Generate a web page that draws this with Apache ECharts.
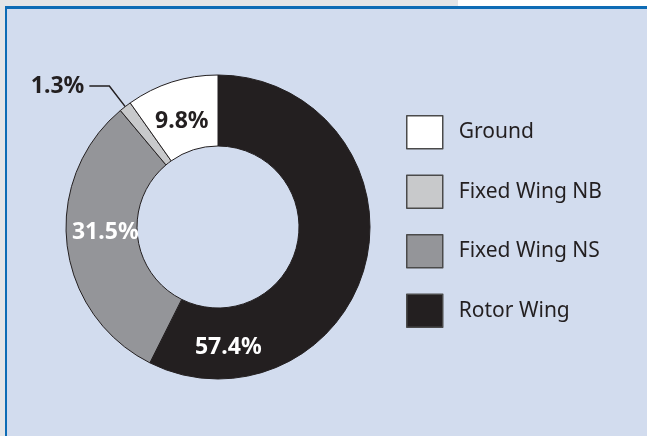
<!DOCTYPE html>
<html>
<head>
<meta charset="utf-8">
<script src="https://cdn.jsdelivr.net/npm/echarts@6/dist/echarts.min.js"></script>
<style>
  html, body { margin: 0; padding: 0; }
  body { width: 647px; height: 436px; background: #e4e5e7; position: relative; overflow: hidden; }
  .corner { position: absolute; left: 458px; top: 0; width: 189px; height: 6px; background: #ffffff; }
  #chart {
    position: absolute; left: 5px; top: 6px;
    width: 640px; height: 427px;
    background: #d2dcee;
    border-top: 3px solid #0e6cb5;
    border-left: 2px solid #0e6cb5;
  }
</style>
</head>
<body>
<div class="corner"></div>
<div id="chart"></div>
<script>
// slices in clockwise order from 12 o'clock
var categories = ['Rotor Wing', 'Fixed Wing NS', 'Fixed Wing NB', 'Ground'];
var values = [57.4, 31.5, 1.3, 9.8];
var colors = ['#231f20', '#949599', '#c8c9cb', '#ffffff'];
var legendOrder = ['Ground', 'Fixed Wing NB', 'Fixed Wing NS', 'Rotor Wing'];

var font = "'Noto Sans', 'Open Sans', sans-serif";

// label tweaks per slice (rotor wing label sits at the bottom of the ring)
var labelOpts = [
  { color: '#ffffff', position: 'inside', offset: [-106, 93] },
  { color: '#ffffff', position: 'inside', offset: [6, -8] },
  { color: '#231f20', position: 'outside' },
  { color: '#231f20', position: 'inside', offset: [0, 8] }
];

var seriesData = categories.map(function (name, i) {
  var lo = labelOpts[i];
  var lbl = { color: lo.color, position: lo.position };
  if (lo.offset) lbl.offset = lo.offset;
  var item = {
    name: name,
    value: values[i],
    itemStyle: { color: colors[i] },
    label: lbl
  };
  if (lo.position === 'outside') {
    item.labelLine = { show: true, length: 26, length2: 20, lineStyle: { color: '#231f20', width: 1.5 } };
  }
  return item;
});

var myChart = echarts.init(document.getElementById('chart'));
myChart.setOption({
  animation: false,
  legend: {
    data: legendOrder,
    orient: 'vertical',
    left: 394,
    top: 101,
    icon: 'rect',
    itemWidth: 36,
    itemHeight: 33,
    itemGap: 25,
    selectedMode: false,
    itemStyle: { borderColor: '#4a4a4a', borderWidth: 1.5 },
    textStyle: { fontFamily: font, fontSize: 21, color: '#231f20', padding: [0, 0, 0, 11] }
  },
  series: [{
    type: 'pie',
    center: [211, 218],
    radius: [81, 152],
    startAngle: 90,
    clockwise: true,
    avoidLabelOverlap: false,
    itemStyle: { borderColor: '#231f20', borderWidth: 1 },
    label: {
      show: true,
      formatter: function (p) { return p.value.toFixed(1) + '%'; },
      fontFamily: font,
      fontWeight: 'bold',
      fontSize: 23
    },
    labelLine: { show: false },
    data: seriesData
  }]
});
</script>
</body>
</html>
